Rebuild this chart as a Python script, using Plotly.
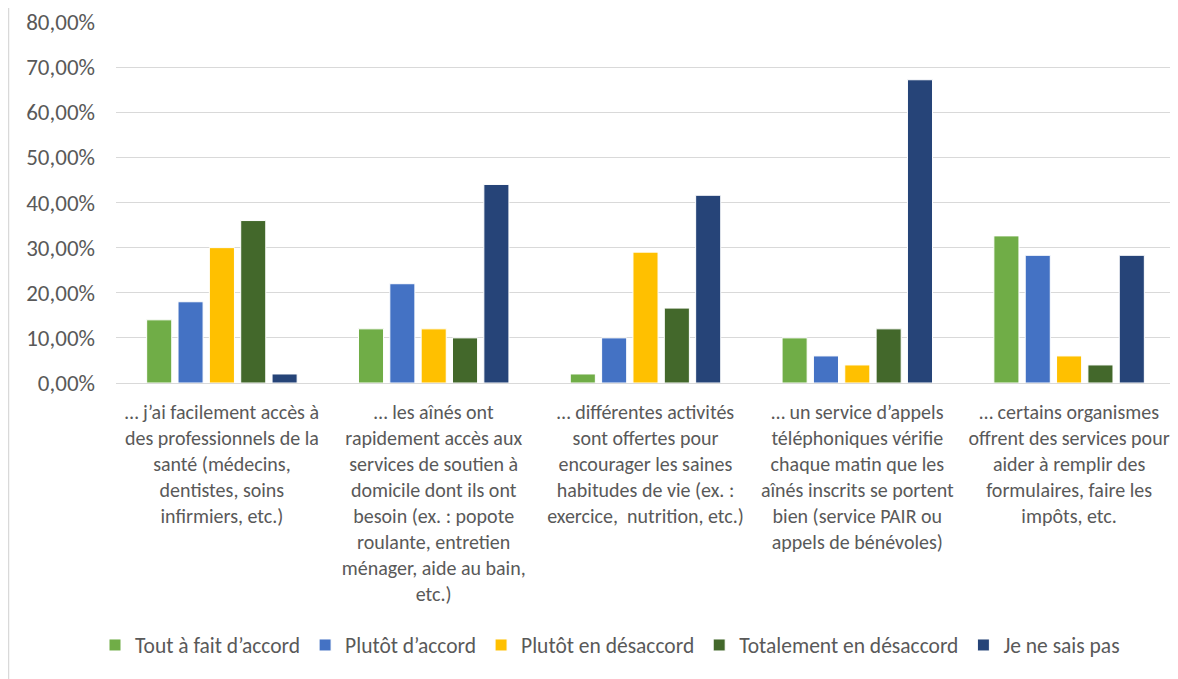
import plotly.graph_objects as go

categories = [
    "… j’ai facilement accès à<br>des professionnels de la<br>santé (médecins,<br>dentistes, soins<br>infirmiers, etc.)",
    "… les aînés ont<br>rapidement accès aux<br>services de soutien à<br>domicile dont ils ont<br>besoin (ex. : popote<br>roulante, entretien<br>ménager, aide au bain,<br>etc.)",
    "… différentes activités<br>sont offertes pour<br>encourager les saines<br>habitudes de vie (ex. :<br>exercice,  nutrition, etc.)",
    "… un service d’appels<br>téléphoniques vérifie<br>chaque matin que les<br>aînés inscrits se portent<br>bien (service PAIR ou<br>appels de bénévoles)",
    "… certains organismes<br>offrent des services pour<br>aider à remplir des<br>formulaires, faire les<br>impôts, etc.",
]

series_names = ["Tout à fait d’accord", "Plutôt d’accord", "Plutôt en désaccord",
                "Totalement en désaccord", "Je ne sais pas"]

tout_a_fait = [0.14, 0.12, 0.02, 0.10, 0.326]
plutot_accord = [0.18, 0.22, 0.10, 0.06, 0.283]
plutot_desaccord = [0.30, 0.12, 0.29, 0.04, 0.06]
totalement_desaccord = [0.36, 0.10, 0.166, 0.12, 0.04]
ne_sais_pas = [0.02, 0.44, 0.416, 0.672, 0.283]

colors = ["#70AD47", "#4472C4", "#FFC000", "#43682B", "#264478"]
values = [tout_a_fait, plutot_accord, plutot_desaccord, totalement_desaccord, ne_sais_pas]

FONT = "Carlito, Calibri, Lato, sans-serif"

# page body has an 8px margin; figure sized/offset to compensate
W, H = 1170, 671
L, R, T, B = 108, 3, 14, 296
PW, PH = W - L - R, H - T - B

fig = go.Figure()
for name, vals, col in zip(series_names, values, colors):
    fig.add_trace(go.Bar(
        x=list(range(len(categories))), y=vals, name=name,
        marker=dict(color=col, line=dict(color="white", width=1)),
    ))

fig.update_layout(
    width=W, height=H,
    margin=dict(l=L, r=R, t=T, b=B, autoexpand=False),
    paper_bgcolor="white", plot_bgcolor="white",
    barmode="group", bargap=0.26, bargroupgap=0.2,
    separators=", ",
    font=dict(family=FONT, color="#595959", size=17),
    showlegend=True,
    legend=dict(orientation="h", xref="container", yref="container",
                x=602 / W, xanchor="center", y=1 - 637 / H, yanchor="middle",
                font=dict(size=21.5, color="#595959"), itemwidth=30,
                traceorder="normal"),
)
fig.update_xaxes(
    tickmode="array", tickvals=list(range(len(categories))), ticktext=categories,
    tickfont=dict(size=20, color="#595959"), showgrid=False, zeroline=False,
    showline=False, ticks="", range=[-0.5, 4.5], automargin=False,
    ticklabelstandoff=15,
)
fig.update_yaxes(
    range=[0, 0.8], dtick=0.1, tickformat=".2%",
    tickfont=dict(size=23, color="#595959"),
    showgrid=True, gridcolor="#D9D9D9", gridwidth=1.3,
    zeroline=True, zerolinecolor="#D9D9D9", zerolinewidth=1.3,
    showline=False, ticks="", ticklabelstandoff=20, automargin=False,
)
fig.add_shape(type="line", xref="paper", yref="paper",
              x0=(0.5 - L) / PW, x1=(0.5 - L) / PW, y0=-B / PH, y1=1 + T / PH,
              line=dict(color="#D9D9D9", width=1.5))

fig.write_html("out.html")
